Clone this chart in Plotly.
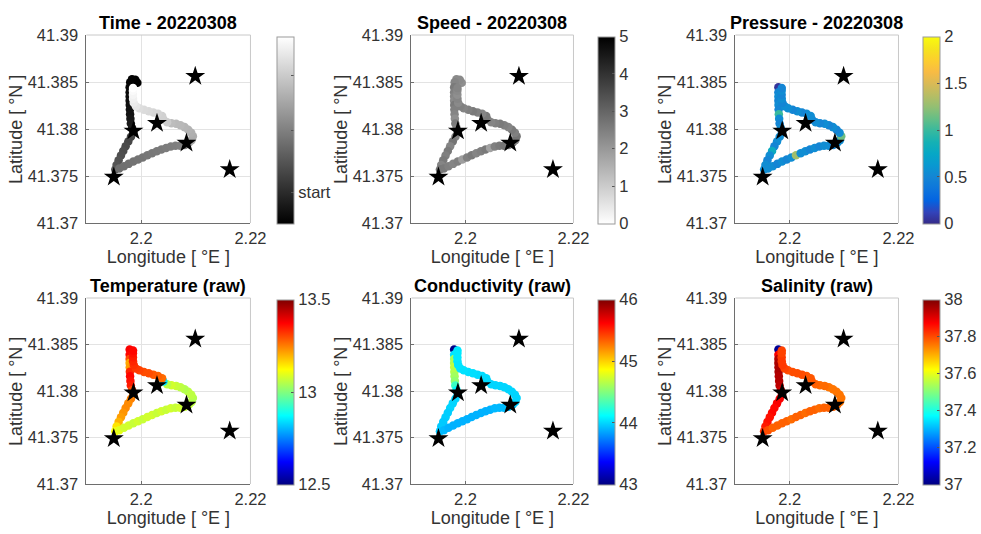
import plotly.graph_objects as go

# ---------------- glider track, 2022-03-08 ----------------
LON = [2.19931, 2.19894, 2.19833, 2.19800, 2.19790, 2.19790, 2.19790, 2.19790, 2.19792, 2.19794,
       2.19798, 2.19804, 2.19812, 2.19835, 2.19857, 2.19814, 2.19765, 2.19716, 2.19673, 2.19631,
       2.19588, 2.19551, 2.19527, 2.19600, 2.19686, 2.19771, 2.19857, 2.19943, 2.20029, 2.20114,
       2.20200, 2.20286, 2.20371, 2.20457, 2.20543, 2.20629, 2.20714, 2.20800, 2.20873, 2.20922,
       2.20947, 2.20916, 2.20861, 2.20794, 2.20720, 2.20641, 2.20555, 2.20476, 2.20408, 2.20384,
       2.20310, 2.20224, 2.20139, 2.20053, 2.19967, 2.19905, 2.19865, 2.19852, 2.19850, 2.19850,
       2.19852]
LAT = [41.38492, 41.38524, 41.38528, 41.38498, 41.38445, 41.38390, 41.38345, 41.38300, 41.38255, 41.38208,
       41.38158, 41.38108, 41.38059, 41.38009, 41.37966, 41.37917, 41.37867, 41.37817, 41.37767, 41.37718,
       41.37668, 41.37618, 41.37568, 41.37579, 41.37604, 41.37629, 41.37654, 41.37675, 41.37696, 41.37721,
       41.37742, 41.37764, 41.37782, 41.37799, 41.37814, 41.37821, 41.37821, 41.37831, 41.37853, 41.37881,
       41.37924, 41.37959, 41.37991, 41.38020, 41.38041, 41.38055, 41.38062, 41.38073, 41.38101, 41.38137,
       41.38162, 41.38176, 41.38190, 41.38204, 41.38222, 41.38243, 41.38279, 41.38321, 41.38364, 41.38407,
       41.38435]

# minutes since the start of the mission
TIME_MIN = [0, 0.5, 1, 1.5, 2, 3, 4, 5, 6, 7,
            8, 9, 10, 11, 24, 27, 28, 29, 30, 31,
            32, 33, 34, 43, 44, 44.5, 45, 45.5, 46, 46.5,
            47, 47.5, 48, 48.5, 49, 49.5, 50, 51, 66, 67,
            68, 69, 70, 71, 72, 73, 74, 80, 81, 82,
            83, 84, 85, 86, 87, 90, 92, 94, 96, 98,
            100]
SPEED = [2.2, 2.3, 2.3, 2.4, 2.6, 2.5, 2.4, 2.3, 2.6, 2.5,
         2.4, 2.2, 2.6, 2.5, 2.6, 2.5, 2.7, 2.4, 2.6, 2.5,
         2.6, 2.4, 2.7, 2.6, 2.5, 2.4, 2.5, 1.9, 2.5, 2.6,
         2.4, 2.5, 2.6, 1.8, 2.5, 2.6, 2.7, 2.6, 2.6, 2.5,
         2.7, 2.5, 2.6, 2.4, 2.5, 2.6, 2.5, 2.4, 2.5, 2.6,
         2.4, 2.5, 2.6, 2.5, 2.4, 2.5, 2.3, 2.4, 2.2, 2.3,
         2.4]
PRESSURE = [None, None, None, None, 0.05, 0.5, 0.55, 0.5, 0.55, 0.5,
            1.0, 0.55, 0.5, 0.55, 0.5, 0.55, 0.55, 0.5, 0.8, 0.55,
            0.5, 0.55, 0.55, 0.55, 0.55, 0.5, 0.55, 0.5, 0.55, 1.3,
            0.55, 0.55, 0.5, 0.55, 0.5, 0.55, 0.55, 0.5, 0.55, 0.55,
            1.15, 0.55, 0.5, 0.55, 0.5, 0.55, 0.5, 0.55, 0.5, 0.55,
            0.55, 0.5, 0.55, 0.5, 0.55, 0.55, 0.5, 0.55, 0.5, 0.55,
            0.5]
TEMPERATURE = [None, None, None, None, 13.38, 13.37, 13.3, 13.21, 13.22, 13.34,
               13.37, 13.36, 13.35, 13.3, 13.26, 13.25, 13.24, 13.24, 13.23, 13.22,
               13.2, 13.15, 13.12, 13.1, 13.08, 13.08, 13.07, 13.08, 13.07, 13.08,
               13.08, 13.07, 13.08, 13.07, 13.08, 13.07, 13.08, 13.07, 13.06, 13.06,
               13.05, 13.06, 13.06, 13.05, 13.06, 13.07, 13.08, 13.06, 12.85, 13.27,
               13.28, 13.29, 13.3, 13.3, 13.31, 13.32, 13.33, 13.34, 13.35, 13.36,
               13.37]
CONDUCTIVITY = [None, None, None, None, 43.02, 44.05, 44.6, 44.65, 44.7, 44.65,
                44.6, 44.55, 44.3, 44.1, 44.0, 44.0, 44.0, 44.0, 43.98, 43.98,
                43.97, 43.97, 43.96, 43.92, 43.9, 43.9, 43.9, 43.9, 43.9, 43.9,
                43.9, 43.9, 43.9, 43.9, 43.92, 43.92, 43.93, 43.94, 43.95, 43.98,
                44.0, 44.0, 44.0, 44.0, 44.0, 44.0, 44.0, 44.0, 44.0, 44.02,
                44.02, 44.02, 44.03, 44.03, 44.04, 44.04, 44.05, 44.05, 44.06, 44.06,
                44.06]
SALINITY = [None, None, None, None, 37.02, 37.88, 37.95, 37.96, 37.96, 37.96,
            37.95, 37.95, 37.94, 37.92, 37.9, 37.88, 37.88, 37.87, 37.87, 37.86,
            37.86, 37.85, 37.83, 37.8, 37.78, 37.78, 37.78, 37.78, 37.77, 37.78,
            37.78, 37.77, 37.78, 37.78, 37.77, 37.78, 37.78, 37.78, 37.77, 37.76,
            37.76, 37.76, 37.76, 37.76, 37.76, 37.77, 37.77, 37.78, 37.79, 37.79,
            37.79, 37.8, 37.8, 37.8, 37.8, 37.81, 37.82, 37.82, 37.82, 37.81,
            37.81]

# fixed stations (stars)
STAR_LON = [2.2099, 2.2029, 2.1986, 2.2083, 2.2162, 2.1950]
STAR_LAT = [41.3856, 41.3806, 41.3798, 41.3785, 41.3757, 41.3749]

# axis ticks
X_TICKS = [2.2, 2.22]
X_TICK_TEXT = ["2.2", "2.22"]
Y_TICKS = [41.37, 41.375, 41.38, 41.385, 41.39]
Y_TICK_TEXT = ["41.37", "41.375", "41.38", "41.385", "41.39"]

# colour bar ticks per variable
TIME_CB_TICKS = [16.5, 50, 79]
TIME_CB_TEXT = ["start", "", ""]
SPEED_CB_TICKS = [0, 1, 2, 3, 4, 5]
PRESSURE_CB_TICKS = [0, 0.5, 1, 1.5, 2]
PRESSURE_CB_TEXT = ["0", "0.5", "1", "1.5", "2"]
TEMP_CB_TICKS = [12.5, 13, 13.5]
TEMP_CB_TEXT = ["12.5", "13", "13.5"]
COND_CB_TICKS = [43, 44, 45, 46]
SAL_CB_TICKS = [37, 37.2, 37.4, 37.6, 37.8, 38]
SAL_CB_TEXT = ["37", "37.2", "37.4", "37.6", "37.8", "38"]

# ---------------- colour maps ----------------
GRAY = [[0, "rgb(0,0,0)"], [1, "rgb(255,255,255)"]]
GRAY_R = [[0, "rgb(255,255,255)"], [1, "rgb(0,0,0)"]]
JET = [[0, "rgb(0,0,128)"], [0.125, "rgb(0,0,255)"], [0.375, "rgb(0,255,255)"],
       [0.625, "rgb(255,255,0)"], [0.875, "rgb(255,0,0)"], [1, "rgb(128,0,0)"]]
_parula_rgb = [
    (0.2081, 0.1663, 0.5292), (0.1959, 0.2645, 0.7279), (0.0117, 0.3875, 0.8820),
    (0.0498, 0.4586, 0.8641), (0.0793, 0.5200, 0.8312), (0.0343, 0.5966, 0.8199),
    (0.0228, 0.6535, 0.7768), (0.0843, 0.6928, 0.7062), (0.2178, 0.7250, 0.6193),
    (0.3952, 0.7459, 0.5244), (0.5709, 0.7485, 0.4494), (0.7184, 0.7411, 0.3905),
    (0.8507, 0.7299, 0.3360), (0.9739, 0.7314, 0.2666), (0.9880, 0.8066, 0.1794),
    (0.9589, 0.8949, 0.1132), (0.9763, 0.9831, 0.0538)]
PARULA = [[i / (len(_parula_rgb) - 1),
           "rgb(%d,%d,%d)" % tuple(round(255 * c) for c in rgb)]
          for i, rgb in enumerate(_parula_rgb)]

# ---------------- layout geometry (px in a 981 x 534 page) ----------------
W, H = 981, 534
COL_X = [(87, 252), (414, 577), (740, 904)]
ROW_Y = [(35, 223), (298, 484)]
CB_X = [279, 602, 929]
CB_THICK = 17
YLABEL_OFFSET = 71
TXT = "#333333"
FONT = "Liberation Sans, Arial, sans-serif"
TICK_SIZE = 16.5


def px_x(v):
    return v / W


def px_y(v):
    return 1 - v / H


panels = [
    ("Time - 20220308", TIME_MIN, GRAY, 0, 100, TIME_CB_TICKS, TIME_CB_TEXT),
    ("Speed - 20220308", SPEED, GRAY_R, 0, 5, SPEED_CB_TICKS, [str(v) for v in SPEED_CB_TICKS]),
    ("Pressure - 20220308", PRESSURE, PARULA, 0, 2, PRESSURE_CB_TICKS, PRESSURE_CB_TEXT),
    ("Temperature (raw)", TEMPERATURE, JET, 12.5, 13.5, TEMP_CB_TICKS, TEMP_CB_TEXT),
    ("Conductivity (raw)", CONDUCTIVITY, JET, 43, 46, COND_CB_TICKS, [str(v) for v in COND_CB_TICKS]),
    ("Salinity (raw)", SALINITY, JET, 37, 38, SAL_CB_TICKS, SAL_CB_TEXT),
]

fig = go.Figure()
annotations = []
shapes = []

for k, (title, values, cscale, cmin, cmax, cb_ticks, cb_text) in enumerate(panels):
    row, col = divmod(k, 3)
    sfx = "" if k == 0 else str(k + 1)
    xa, ya = "x" + sfx, "y" + sfx
    x0, x1 = COL_X[col]
    y0, y1 = ROW_Y[row]

    pts = [(lo, la, v) for lo, la, v in zip(LON, LAT, values) if v is not None]
    fig.add_trace(go.Scatter(
        x=[p[0] for p in pts], y=[p[1] for p in pts], xaxis=xa, yaxis=ya,
        mode="markers", showlegend=False, hoverinfo="skip",
        marker=dict(size=8.5, color=[p[2] for p in pts], colorscale=cscale,
                    cmin=cmin, cmax=cmax, line=dict(width=0), showscale=True,
                    colorbar=dict(
                        x=px_x(CB_X[col]), xanchor="left", xpad=0, ypad=0,
                        y=px_y((y0 + y1) / 2 + 1), yanchor="middle",
                        len=(y1 - y0) - 1, lenmode="pixels",
                        thickness=CB_THICK, thicknessmode="pixels",
                        outlinewidth=1, outlinecolor="#9a9a9a",
                        tickvals=cb_ticks, ticktext=cb_text,
                        ticks="inside", ticklen=3, tickcolor="#555555",
                        tickfont=dict(size=TICK_SIZE, color=TXT, family=FONT)),
                    ),
    ))
    fig.add_trace(go.Scatter(
        x=STAR_LON, y=STAR_LAT, xaxis=xa, yaxis=ya, mode="markers",
        showlegend=False, hoverinfo="skip",
        marker=dict(symbol="star", size=15, color="black", line=dict(width=0)),
    ))

    axis_common = dict(showgrid=True, gridcolor="#e3e3e3", gridwidth=1, zeroline=False,
                       showline=True, linecolor="#6e6e6e", linewidth=1, mirror=False,
                       ticks="inside", ticklen=3, tickcolor="#6e6e6e", automargin=False,
                       tickfont=dict(size=TICK_SIZE, color=TXT, family=FONT), fixedrange=True)
    fig.update_layout(**{
        ("xaxis" + sfx): dict(axis_common, domain=[px_x(x0), px_x(x1)], anchor=ya,
                              range=[2.19, 2.22], tickvals=X_TICKS, ticktext=X_TICK_TEXT,
                              title=dict(text="Longitude [ °E ]", standoff=1,
                                         font=dict(size=18, color=TXT, family=FONT))),
        ("yaxis" + sfx): dict(axis_common, domain=[px_y(y1), px_y(y0)], anchor=xa,
                              range=[41.37, 41.39], tickvals=Y_TICKS, ticktext=Y_TICK_TEXT,
                              ticklabelstandoff=4),
    })

    # light box edges on the top and right of each map
    shapes.append(dict(type="line", xref=xa + " domain", yref=ya + " domain",
                       x0=0, x1=1, y0=1, y1=1, line=dict(color="#c8c8c8", width=1)))
    shapes.append(dict(type="line", xref=xa + " domain", yref=ya + " domain",
                       x0=1, x1=1, y0=0, y1=1, line=dict(color="#c8c8c8", width=1)))

    # rotated latitude label beside each map
    annotations.append(dict(text="Latitude [ °N ]", xref="paper", yref="paper",
                            x=px_x(x0 - YLABEL_OFFSET), y=px_y((y0 + y1) / 2),
                            xanchor="center", yanchor="middle", textangle=-90,
                            showarrow=False, font=dict(size=18, color=TXT, family=FONT)))

    annotations.append(dict(text="<b>%s</b>" % title, xref="paper", yref="paper",
                            x=px_x((x0 + x1) / 2), y=px_y(y0 - 12), xanchor="center",
                            yanchor="middle", showarrow=False,
                            font=dict(size=18, color="black", family=FONT)))

fig.update_layout(width=W, height=H, margin=dict(l=0, r=0, t=0, b=0),
                  paper_bgcolor="white", plot_bgcolor="white",
                  font=dict(family=FONT, color=TXT),
                  annotations=annotations, shapes=shapes)

fig.write_html("out.html", config={"displayModeBar": False})
